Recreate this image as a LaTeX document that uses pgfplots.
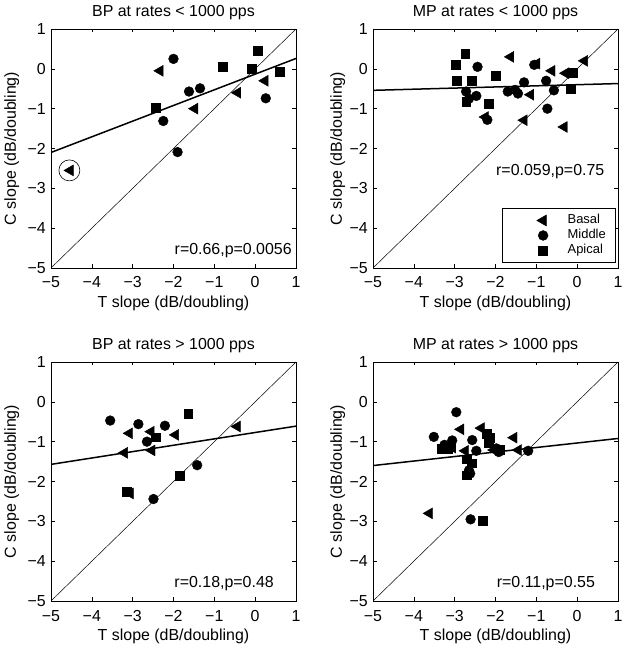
\documentclass[border=0pt]{standalone}
\usepackage{pgfplots}
\pgfplotsset{compat=1.18}
\usepackage{fontspec}
\setmainfont{Liberation Sans}

\pgfplotsset{
  every axis title shift=0pt,
  panel/.style={
    scale only axis, width=245bp, height=239bp,
    xmin=-5, xmax=1, ymin=-5, ymax=1,
    xtick={-5,-4,-3,-2,-1,0,1}, ytick={-5,-4,-3,-2,-1,0,1},
    xticklabels={−5,−4,−3,−2,−1,0,1},
    yticklabels={−5,−4,−3,−2,−1,0,1},
    tick align=inside, major tick length=3.5bp,
    tick style={black, line width=0.5bp},
    axis line style={black, line width=0.6bp},
    font=\fontsize{16}{19}\selectfont,
    ticklabel style={font=\fontsize{16}{19}\selectfont},
    xticklabel style={anchor=base, yshift=-20bp},
    yticklabel style={anchor=east, inner sep=0pt, xshift=-5bp},
    title style={at={(axis description cs:0.5,1.054)}, anchor=base, inner sep=0pt},
    xlabel style={at={(axis description cs:0.5,-0.165)}, anchor=base, inner sep=0pt},
    xlabel={T slope (dB/doubling)},
    ylabel={C slope (dB/doubling)},
  },
  leftcol/.style={ylabel style={at={(axis description cs:-0.143,0.5)}, anchor=base, inner sep=0pt}},
  rightcol/.style={ylabel style={at={(axis description cs:-0.127,0.5)}, anchor=base, inner sep=0pt}},
  basal/.style={only marks, mark=triangle*, mark size=6.3bp, mark options={rotate=90, fill=black, draw=black}},
  middle/.style={only marks, mark=*, mark size=4.9bp, mark options={fill=black, draw=black}},
  apical/.style={only marks, mark=square*, mark size=4.4bp, mark options={fill=black, draw=black}},
  ident/.style={black, line width=0.5bp, forget plot},
  regr/.style={black, line width=1.5bp, forget plot},
}

\begin{document}
\begin{tikzpicture}
\useasboundingbox (0bp,0bp) rectangle (624bp,649bp);

% ---------------- Top left ----------------
\begin{axis}[panel, leftcol, at={(51bp,381bp)}, anchor=south west,
  title={BP at rates < 1000 pps}]
\addplot[basal] coordinates {(-2.33,-0.05) (-1.48,-1.0) (-0.43,-0.6) (0.24,-0.3) (-4.53,-2.55)};
\addplot[middle] coordinates {(-2.0,0.25) (-1.62,-0.57) (-1.35,-0.49) (-2.25,-1.31) (-1.9,-2.09) (0.26,-0.74)};
\addplot[apical] coordinates {(0.07,0.45) (-0.79,0.05) (-0.09,0.0) (0.61,-0.07) (-2.43,-0.97)};
\addplot[ident] coordinates {(-5,-5) (1,1)};
\addplot[regr] coordinates {(-5,-2.1) (1,0.26)};
\addplot[only marks, mark=o, mark size=10.5bp, mark options={line width=0.6bp, draw=black}, forget plot] coordinates {(-4.55,-2.55)};
\node[anchor=base east, inner sep=0pt] at (axis cs:0.9,-4.65) {r=0.66,p=0.0056};
\end{axis}

% ---------------- Top right ----------------
\begin{axis}[panel, rightcol, at={(373bp,381bp)}, anchor=south west,
  title={MP at rates < 1000 pps},
  legend style={at={(axis description cs:0.99,0.022)}, anchor=south east,
    font=\fontsize{13}{15}\selectfont, draw=black, line width=0.5bp,
    inner xsep=8bp, inner ysep=4.5bp, row sep=0pt,
    nodes={inner sep=1.5bp, text height=9.5bp, text depth=2.5bp}},
  legend cell align=left,
  legend image code/.code={\path[draw=none] (0bp,-3bp) rectangle (56bp,3bp); \draw[#1] plot coordinates {(33bp,0bp)};}]
\addplot[basal] coordinates {(-1.63,0.30) (-0.99,0.13) (0.18,0.2) (-0.62,-0.05) (-0.28,-0.11) (-1.14,-0.65) (-1.3,-1.29) (-0.32,-1.46) (-2.25,-1.21)};
\addplot[middle] coordinates {(-2.44,0.05) (-1.05,0.1) (-1.3,-0.34) (-0.76,-0.3) (-1.7,-0.57) (-1.52,-0.53) (-1.45,-0.62) (-0.57,-0.54) (-2.72,-0.57) (-2.47,-0.68) (-2.65,-0.75) (-0.73,-1.0) (-2.2,-1.28)};
\addplot[apical] coordinates {(-2.74,0.37) (-2.98,0.1) (-2.0,-0.17) (-2.95,-0.29) (-2.59,-0.29) (-2.72,-0.82) (-2.16,-0.88) (-0.1,-0.1) (-0.15,-0.5)};
\addplot[ident] coordinates {(-5,-5) (1,1)};
\addplot[regr] coordinates {(-5,-0.54) (1,-0.37)};
\node[anchor=base east, inner sep=0pt] at (axis cs:0.67,-2.68) {r=0.059,p=0.75};
\legend{Basal,Middle,Apical}
\end{axis}

% ---------------- Bottom left ----------------
\begin{axis}[panel, leftcol, at={(51bp,48bp)}, anchor=south west,
  title={BP at rates > 1000 pps}]
\addplot[basal] coordinates {(-3.08,-0.79) (-2.55,-0.75) (-1.95,-0.83) (-2.53,-1.22) (-3.2,-1.28) (-0.44,-0.62) (-3.06,-2.3)};
\addplot[middle] coordinates {(-3.55,-0.47) (-2.86,-0.56) (-2.21,-0.60) (-2.65,-1.0) (-1.42,-1.59) (-2.49,-2.44)};
\addplot[apical] coordinates {(-1.64,-0.29) (-2.43,-0.89) (-1.85,-1.85) (-3.14,-2.26)};
\addplot[ident] coordinates {(-5,-5) (1,1)};
\addplot[regr] coordinates {(-5,-1.57) (1,-0.61)};
\node[anchor=base east, inner sep=0pt] at (axis cs:0.46,-4.65) {r=0.18,p=0.48};
\end{axis}

% ---------------- Bottom right ----------------
\begin{axis}[panel, rightcol, at={(373bp,48bp)}, anchor=south west,
  title={MP at rates > 1000 pps}]
\addplot[basal] coordinates {(-2.85,-0.69) (-2.35,-0.66) (-1.55,-0.90) (-2.74,-1.23) (-2.04,-1.21) (-1.44,-1.21) (-3.62,-2.8) (-3.05,-1.15)};
\addplot[middle] coordinates {(-2.96,-0.26) (-3.51,-0.88) (-3.06,-0.97) (-3.25,-1.08) (-2.57,-0.96) (-2.47,-1.23) (-1.98,-1.17) (-1.92,-1.26) (-1.20,-1.23) (-2.65,-1.72) (-2.62,-1.80) (-2.61,-2.95)};
\addplot[apical] coordinates {(-2.22,-0.79) (-2.14,-0.91) (-2.17,-1.02) (-3.31,-1.17) (-3.17,-1.17) (-2.70,-1.44) (-2.59,-1.54) (-2.7,-1.84) (-1.9,-1.2) (-2.32,-2.98)};
\addplot[ident] coordinates {(-5,-5) (1,1)};
\addplot[regr] coordinates {(-5,-1.6) (1,-0.92)};
\node[anchor=base east, inner sep=0pt] at (axis cs:0.44,-4.65) {r=0.11,p=0.55};
\end{axis}

\end{tikzpicture}
\end{document}
